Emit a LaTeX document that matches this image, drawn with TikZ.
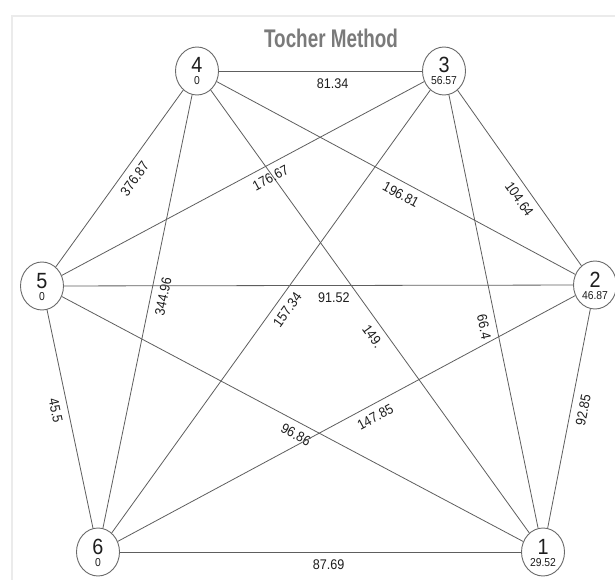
\documentclass[tikz,border=0pt]{standalone}
\usepackage{fontspec}
\setmainfont{Liberation Sans}
\newfontfamily\lblfont[FakeStretch=0.9]{Liberation Sans}
\newfontfamily\ttlfont[FakeStretch=0.74]{Liberation Sans}
\usetikzlibrary{shapes.geometric}
\definecolor{edgegray}{HTML}{5E5E5E}
\definecolor{circgray}{HTML}{6A6A6A}
\definecolor{txtc}{HTML}{1E1E1E}
\definecolor{titlegray}{HTML}{7A7A7A}
\definecolor{framegray}{HTML}{EBEBEB}
\begin{document}
\begin{tikzpicture}[x=1pt,y=-1pt,
  vtx/.style={ellipse, draw=circgray, line width=0.9pt, fill=white, minimum width=43pt, minimum height=48pt, inner sep=0pt},
  bignum/.style={font=\lblfont\fontsize{22}{22}\selectfont, text=txtc, inner sep=0pt, anchor=base},
  smallnum/.style={font=\lblfont\fontsize{11.5}{11.5}\selectfont, text=txtc, inner sep=0pt, anchor=base},
  wt/.style={font=\lblfont\fontsize{14}{14}\selectfont, text=txtc, sloped, below, inner sep=7pt},
  link/.style={draw=edgegray, line width=0.8pt}]
\useasboundingbox (0,0) rectangle (615,580);
\fill[white] (0,0) rectangle (615,580);
\draw[framegray, line width=2.5pt] (615,16) -- (12,16) -- (12,580);

\node[font=\ttlfont\bfseries\fontsize{25.5}{26}\selectfont, text=titlegray, inner sep=0pt] (title) at (331,38) {Tocher Method};

\node[vtx] (n4) at (197,71) {};
\node[vtx] (n3) at (444,71) {};
\node[vtx] (n5) at (42,286) {};
\node[vtx] (n2) at (595,285) {};
\node[vtx] (n6) at (98,552) {};
\node[vtx] (n1) at (543,552) {};

\draw[link] (n4) -- node[wt,pos=0.56] {81.34} (n3);
\draw[link] (n4) -- node[wt,pos=0.46] {376.87} (n5);
\draw[link] (n4) -- node[wt,pos=0.53] {196.81} (n2);
\draw[link] (n4) -- node[wt,pos=0.46] {344.96} (n6);
\draw[link] (n4) -- node[wt,pos=0.54] {149.} (n1);
\draw[link] (n3) -- node[wt,pos=0.44] {176.67} (n5);
\draw[link] (n3) -- node[wt,pos=0.58] {104.64} (n2);
\draw[link] (n3) -- node[wt,pos=0.48] {157.34} (n6);
\draw[link] (n3) -- node[wt,pos=0.53] {66.4} (n1);
\draw[link] (n5) -- node[wt,pos=0.53] {91.52} (n2);
\draw[link] (n5) -- node[wt,pos=0.45] {45.5} (n6);
\draw[link] (n5) -- node[wt,pos=0.52] {96.86} (n1);
\draw[link] (n2) -- node[wt,pos=0.45] {147.85} (n6);
\draw[link] (n2) -- node[wt,pos=0.45] {92.85} (n1);
\draw[link] (n6) -- node[wt,pos=0.52] {87.69} (n1);

\node[bignum] (n4a) at ([yshift=-2pt]n4.center) {4};
\node[smallnum] (n4b) at ([yshift=-14pt]n4.center) {0};
\node[bignum] (n3a) at ([yshift=-2pt]n3.center) {3};
\node[smallnum] (n3b) at ([yshift=-14pt]n3.center) {56.57};
\node[bignum] (n5a) at ([yshift=-2pt]n5.center) {5};
\node[smallnum] (n5b) at ([yshift=-14pt]n5.center) {0};
\node[bignum] (n2a) at ([yshift=-2pt]n2.center) {2};
\node[smallnum] (n2b) at ([yshift=-14pt]n2.center) {46.87};
\node[bignum] (n6a) at ([yshift=-2pt]n6.center) {6};
\node[smallnum] (n6b) at ([yshift=-14pt]n6.center) {0};
\node[bignum] (n1a) at ([yshift=-2pt]n1.center) {1};
\node[smallnum] (n1b) at ([yshift=-14pt]n1.center) {29.52};
\end{tikzpicture}
\end{document}
